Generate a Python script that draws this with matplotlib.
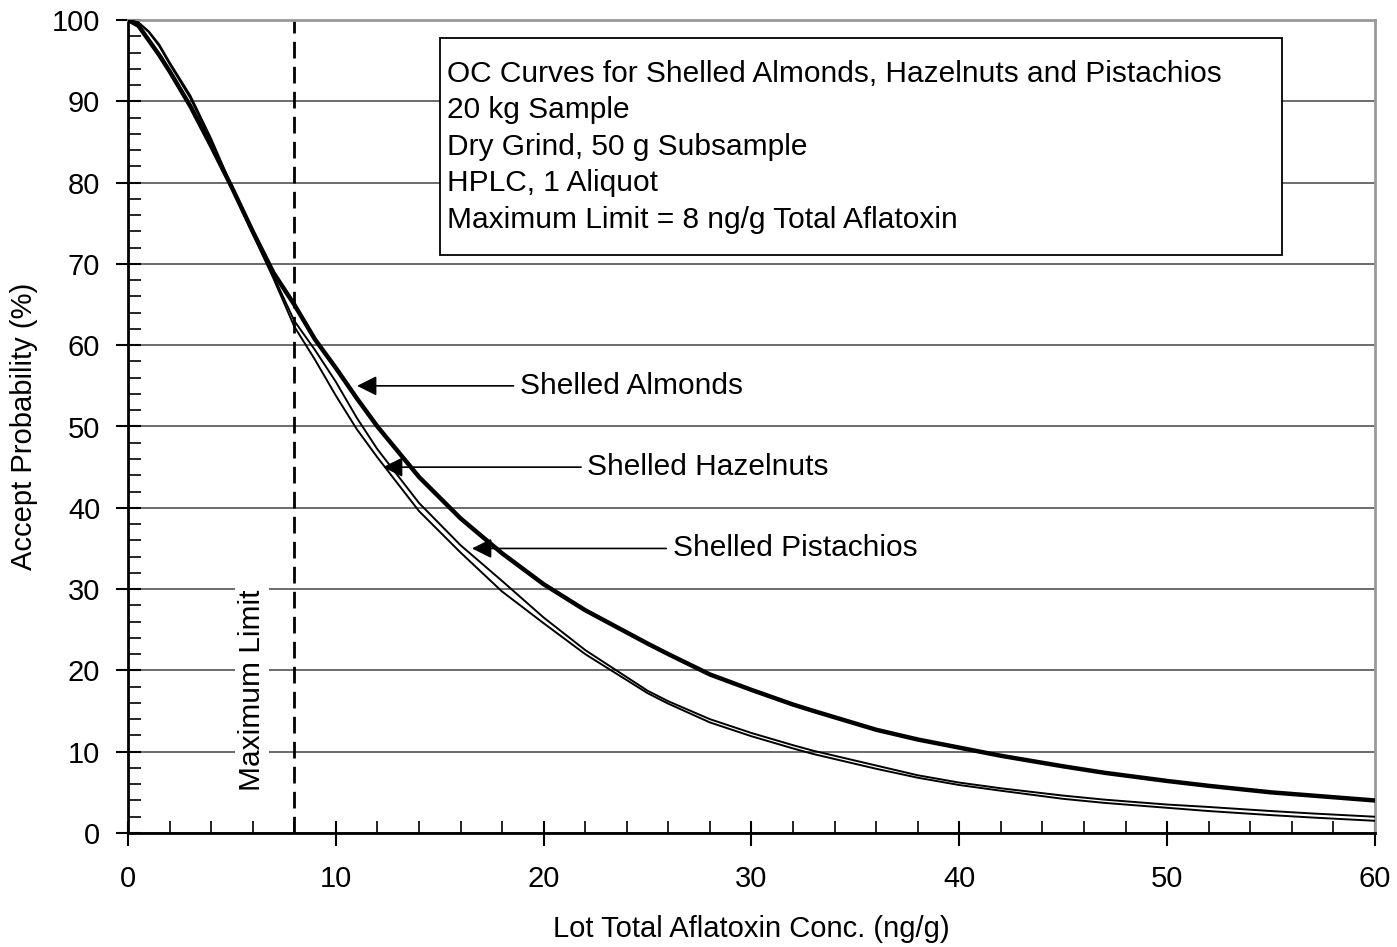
import numpy as np
import matplotlib.pyplot as plt
import matplotlib as mpl
from matplotlib.patches import Rectangle

mpl.rcParams['font.family'] = ['Liberation Sans', 'DejaVu Sans']

# lot concentration (ng/g) and accept probability (%)
conc = [0, 0.5, 1, 1.5, 2, 3, 4, 5, 6, 7, 8, 9, 10, 11, 12, 14, 16, 18, 20, 22, 25, 26, 28, 30, 32, 33, 36, 38,
        40, 42, 45, 47, 50, 52, 55, 57, 60]
almonds = [100, 99.3, 97.5, 95.7, 93.7, 89.4, 84.5, 79.4, 74.0, 68.9, 65.0, 60.7, 57.2, 53.5, 50.0, 43.8, 38.7, 34.4,
           30.6, 27.4, 23.3, 22.0, 19.5, 17.6, 15.8, 15.0, 12.7, 11.5, 10.5, 9.5, 8.2, 7.4, 6.4, 5.8, 5.0, 4.6, 4.0]
hazelnuts = [100, 99.7, 98.6, 97.0, 94.8, 90.7, 85.4, 79.5, 74.0, 68.5, 63.0, 59.4, 55.5, 51.1, 47.2, 40.6, 35.4, 31.0,
             26.5, 22.5, 17.5, 16.2, 14.0, 12.3, 10.8, 10.1, 8.3, 7.1, 6.2, 5.5, 4.6, 4.1, 3.5, 3.2, 2.7, 2.4, 2.0]
pistachios = [100, 99.7, 98.5, 96.8, 94.6, 90.4, 85.1, 79.3, 73.7, 68.2, 62.3, 58.2, 53.8, 49.7, 46.2, 39.6, 34.5, 29.7,
              25.8, 22.0, 17.2, 15.9, 13.6, 11.9, 10.4, 9.7, 7.9, 6.8, 5.9, 5.2, 4.2, 3.7, 3.1, 2.7, 2.2, 1.9, 1.5]

max_limit = 8
info_lines = ['OC Curves for Shelled Almonds, Hazelnuts and Pistachios',
              '20 kg Sample',
              'Dry Grind, 50 g Subsample',
              'HPLC, 1 Aliquot',
              'Maximum Limit = 8 ng/g Total Aflatoxin']


def main() -> None:
	fig = plt.figure(figsize=(13.97, 9.47), dpi=100)
	ax = fig.add_axes([128 / 1397, 1 - 833 / 947, 1247 / 1397, 813 / 947])

	ax.set_xlim(0, 60)
	ax.set_ylim(0, 100)
	ax.set_xticks(np.arange(0, 61, 10))
	ax.set_yticks(np.arange(0, 101, 10))
	ax.set_xticks(np.arange(0, 61, 2), minor=True)
	ax.set_yticks(np.arange(0, 101, 2), minor=True)
	ax.tick_params(which='major', direction='inout', length=18, width=1.5, labelsize=21)
	ax.tick_params(which='minor', direction='in', length=9, width=1.2)
	ax.tick_params(axis='x', which='major', pad=14)
	ax.tick_params(axis='y', which='major', pad=11)

	ax.grid(axis='y', which='major', color='#444444', lw=1.1, zorder=0)
	ax.spines['left'].set_linewidth(2)
	ax.spines['bottom'].set_linewidth(2)
	ax.spines['top'].set_color('#999999')
	ax.spines['top'].set_linewidth(2)
	ax.spines['right'].set_color('#999999')
	ax.spines['right'].set_linewidth(2)

	ax.plot(conc, hazelnuts, color='k', lw=1.4, zorder=3)
	ax.plot(conc, pistachios, color='k', lw=1.4, zorder=3)
	ax.plot(conc, almonds, color='k', lw=3.2, zorder=4)

	ax.axvline(max_limit, color='k', lw=2, ls=(0, (6, 3)), zorder=2)
	ax.text(5.97, 17.6, 'Maximum Limit', rotation=90, fontsize=21.5, ha='center', va='center',
			bbox=dict(facecolor='white', edgecolor='none', pad=2), zorder=2.5)

	# info box
	ax.add_patch(Rectangle((15.01, 71.1), 40.52, 26.7, facecolor='white', edgecolor='k', lw=1.3, zorder=5))
	for i, line in enumerate(info_lines):
		ax.text(15.35, 93.36 - i * 4.49, line, fontsize=21.5, va='center', ha='left', zorder=6)

	arrow = dict(arrowstyle='-|>', color='k', lw=1.2, mutation_scale=30, shrinkA=0, shrinkB=0)
	for label, tip, tail in [('Shelled Almonds', (11.02, 55), (18.55, 55)),
							 ('Shelled Hazelnuts', (12.27, 45), (21.8, 45)),
							 ('Shelled Pistachios', (16.55, 35), (25.9, 35))]:
		ax.annotate('', xy=tip, xytext=tail, arrowprops=arrow, zorder=5)
		ax.text(tail[0] + 0.3, tail[1], label, fontsize=21.5, va='center', ha='left')

	ax.set_xlabel('Lot Total Aflatoxin Conc. (ng/g)', fontsize=21, labelpad=16)
	ax.set_ylabel('Accept Probability (%)', fontsize=21, labelpad=10)

	plt.savefig('out.png', dpi=100)


if __name__ == '__main__':
	main()
